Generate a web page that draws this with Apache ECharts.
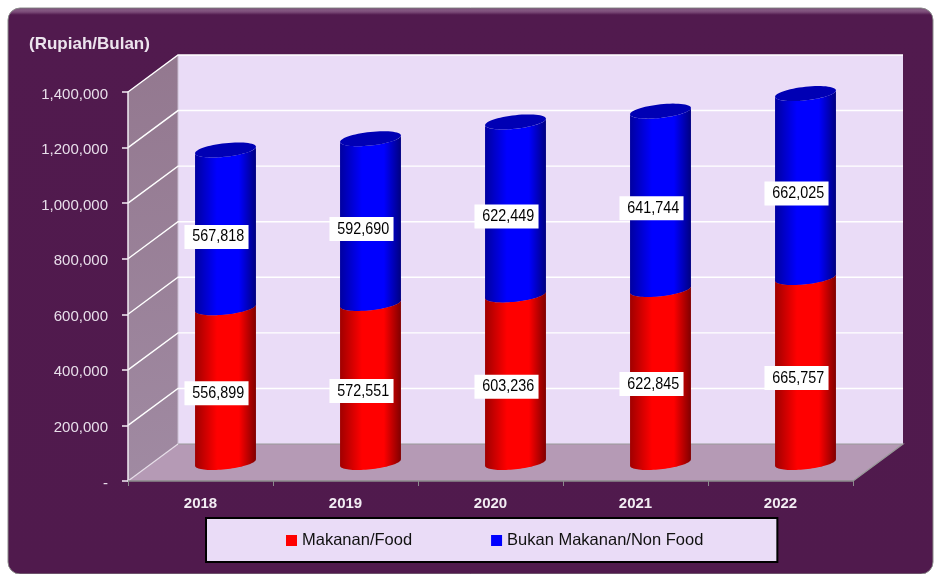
<!DOCTYPE html>
<html><head><meta charset="utf-8">
<style>html,body{margin:0;padding:0;background:#fff}#c{width:935px;height:574px}</style>
<script src="https://cdn.jsdelivr.net/npm/echarts@6/dist/echarts.min.js"></script>
</head><body><div id="c"></div>
<script>
const years = ['2018','2019','2020','2021','2022'];
const food = [556899,572551,603236,622845,665757];
const nonFood = [567818,592690,622449,641744,662025];
const yTicks = [0,200000,400000,600000,800000,1000000,1200000,1400000];
const FONT = '"Liberation Sans", Arial, sans-serif';
const DX = 50, DY = -37;
const chart = echarts.init(document.getElementById('c'), null, {renderer:'canvas'});

function ellipse(cx, cy, a, b, s, from, to, n) {
  const pts = [];
  for (let i = 0; i <= n; i++) {
    const t = from + (to - from) * i / n;
    pts.push([cx + a * Math.cos(t), cy + b * Math.sin(t) - s * Math.cos(t)]);
  }
  return pts;
}
function cylinder(api, params, lowVal, highVal, cols, topCol, labelVal) {
  const idx = api.value(0);
  const base = api.coord([idx, lowVal]);
  const top = api.coord([idx, highVal]);
  const cx = base[0] + DX / 2, y0 = base[1] + DY / 2, y1 = top[1] + DY / 2;
  const a = api.size([1, 0])[0] * 0.21, b = 6.8, s = 3.2;
  const body = ellipse(cx, y0, a, b, s, Math.PI, 0, 40).concat(ellipse(cx, y1, a, b, s, 0, Math.PI, 40));
  const grad = {type:'linear', x:0, y:0, x2:1, y2:0, colorStops:[
    {offset:0, color:cols[0]},{offset:0.36, color:cols[1]},{offset:0.72, color:cols[1]},{offset:1, color:cols[2]}]};
  return {type:'group', children:[
    {type:'polygon', shape:{points:body}, style:{fill:grad}},
    {type:'polygon', shape:{points:ellipse(cx, y1, a, b, s, 0, Math.PI * 2, 60)}, style:{fill:topCol}},
    {type:'text', x:cx - 9, y:(y0 + y1) / 2 + 8, scaleX:0.87, z2:50, style:{
      text:labelVal.toLocaleString('en-US'), font:'16.5px ' + FONT, fill:'#000',
      backgroundColor:'#fff', padding:[4,5,3,9], align:'center', verticalAlign:'middle'}}
  ]};
}
const option = {
  animation:false,
  backgroundColor:'#fff',
  graphic:[{type:'rect', z:-10, silent:true,
    shape:{x:8, y:8, width:925, height:566, r:12},
    style:{stroke:'#8a8a8a', lineWidth:1, fill:{type:'linear', x:0, y:0, x2:0, y2:1, colorStops:[
      {offset:0, color:'#5a2a58'},{offset:0.004, color:'#865b84'},{offset:0.008, color:'#7a4a77'},
      {offset:0.013, color:'#511a4e'},{offset:1, color:'#501a4d'}]}}}],
  title:{text:'(Rupiah/Bulan)', left:29, top:36, padding:0,
    textStyle:{color:'#ece4ee', fontFamily:FONT, fontWeight:'bold', fontSize:17}},
  legend:{
    left:206, top:518, orient:'horizontal', selectedMode:false,
    data:['Makanan/Food','Bukan Makanan/Non Food'],
    backgroundColor:'#eadcf7', borderColor:'#000', borderWidth:2, borderRadius:0,
    padding:[14,74,13,80], itemGap:79, itemWidth:11, itemHeight:11, icon:'rect',
    textStyle:{color:'#111', fontFamily:FONT, fontSize:16.5, padding:[2,0,0,0]}
  },
  grid:{left:128, right:82, top:92, bottom:93},
  xAxis:{type:'category', data:years, z:5,
    axisLine:{show:true, lineStyle:{color:'#8c8a8c', width:1.5}},
    axisTick:{show:true, alignWithLabel:false, length:5, lineStyle:{color:'#8c8a8c'}},
    axisLabel:{color:'#f2ecf3', fontFamily:FONT, fontWeight:'bold', fontSize:15, margin:15},
    splitLine:{show:false}},
  yAxis:{type:'value', min:0, max:1400000, interval:200000, z:5,
    axisLine:{show:true, lineStyle:{color:'#f2ecf3', width:1.5}},
    axisTick:{show:true, length:6, lineStyle:{color:'#f2ecf3', width:1.5}},
    axisLabel:{color:'#e8deea', fontFamily:FONT, fontSize:15, margin:20, verticalAlign:'top', padding:[-5,0,0,0],
      formatter:v => v === 0 ? '-' : v.toLocaleString('en-US')},
    splitLine:{show:false}},
  series:[
    {type:'custom', name:'frame', silent:true, z:1, data:yTicks.map((v,i)=>[i,v]),
      encode:{x:0, y:1},
      renderItem(params, api){
        const cs = params.coordSys;
        const v = api.value(1);
        const y = api.coord([0, v])[1], L = cs.x, R = cs.x + cs.width;
        const B = cs.y + cs.height, T = cs.y;
        const ch = [];
        if (params.dataIndex === 0) {
          ch.push({type:'polygon', shape:{points:[[L+DX,T+DY],[R+DX,T+DY],[R+DX,B+DY],[L+DX,B+DY]]}, style:{fill:'#eadcf7'}});
          ch.push({type:'polygon', shape:{points:[[L,T],[L+DX,T+DY],[L+DX,B+DY],[L,B]]},
            style:{fill:{type:'linear',x:0,y:0,x2:1,y2:1,colorStops:[{offset:0,color:'#93788f'},{offset:1,color:'#a08aa2'}]}}});
          ch.push({type:'polygon', shape:{points:[[L,B],[L+DX,B+DY],[R+DX,B+DY],[R,B]]}, style:{fill:'#b59ab5'}});
          ch.push({type:'polyline', shape:{points:[[L+DX,B+DY],[R+DX,B+DY],[R,B]]}, style:{fill:null, stroke:'#9a9a9a', lineWidth:1.2}});
          ch.push({type:'line', shape:{x1:L+DX,y1:T+DY,x2:L+DX,y2:B+DY}, style:{stroke:'#c9bfd0', lineWidth:1}});
          ch.push({type:'line', shape:{x1:L,y1:B,x2:L+DX,y2:B+DY}, style:{stroke:'#e8e0ea', lineWidth:1.2}});
        } else {
          ch.push({type:'polyline', shape:{points:[[L,y],[L+DX,y+DY],[R+DX,y+DY]]}, style:{fill:null, stroke:'#fff', lineWidth:1.4}});
        }
        return {type:'group', children:ch};
      }},
    {type:'custom', name:'Makanan/Food', z:3, data:years.map((y,i)=>[i,food[i]]),
      encode:{x:0, y:1}, itemStyle:{color:'#ff0000'},
      renderItem(params, api){
        const i = api.value(0);
        return cylinder(api, params, 0, food[i], ['#a00000','#ff0000','#800000'], '#cc0000', food[i]);
      }},
    {type:'custom', name:'Bukan Makanan/Non Food', z:4, data:years.map((y,i)=>[i,food[i]+nonFood[i]]),
      encode:{x:0, y:1}, itemStyle:{color:'#0000ff'},
      renderItem(params, api){
        const i = api.value(0);
        return cylinder(api, params, food[i], food[i]+nonFood[i], ['#0000a0','#0000ff','#000080'], '#0000b4', nonFood[i]);
      }}
  ]
};
chart.setOption(option);
</script></body></html>
